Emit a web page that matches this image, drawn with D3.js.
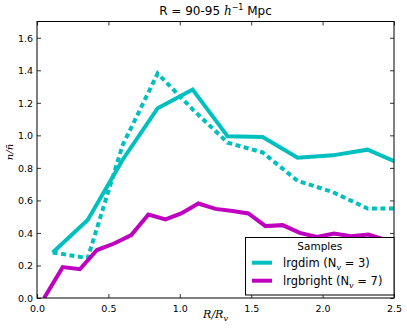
<!DOCTYPE html>
<html><head><meta charset="utf-8">
<script src="https://cdn.jsdelivr.net/npm/d3@7"></script>
<style>
body{margin:0;background:#fff;}
svg{display:block;}
text{font-family:"DejaVu Sans",sans-serif;}
.math{font-family:"DejaVu Serif",serif;font-style:italic;}
</style></head><body>
<svg id="c" width="407" height="329"></svg>
<script>
// Data
const dimX = [0.11, 0.355, 0.60, 0.845, 1.09, 1.335, 1.58, 1.825, 2.07, 2.315, 2.56];
const dimAll = [0.28, 0.48, 0.85, 1.167, 1.282, 0.994, 0.99, 0.863, 0.877, 0.912, 0.819];
const dimDashed = [0.28, 0.245, 0.94, 1.38, 1.16, 0.955, 0.895, 0.72, 0.652, 0.55, 0.55];
const brightX = [0.05, 0.18, 0.30, 0.42, 0.54, 0.66, 0.78, 0.90, 1.01, 1.13, 1.25, 1.37, 1.48, 1.60, 1.72, 1.84, 1.96, 2.08, 2.20, 2.32, 2.43, 2.55];
const brightY = [0.0, 0.19, 0.177, 0.295, 0.335, 0.387, 0.513, 0.483, 0.52, 0.581, 0.548, 0.535, 0.52, 0.442, 0.448, 0.40, 0.376, 0.397, 0.38, 0.39, 0.36, 0.355];
const xTicks = [0.0, 0.5, 1.0, 1.5, 2.0, 2.5];
const yTicks = [0.0, 0.2, 0.4, 0.6, 0.8, 1.0, 1.2, 1.4, 1.6];
const legendLabels = ["lrgdim", "lrgbright"];
const legendN = [3, 7];

const svg = d3.select("#c");
const L = 37, R = 394, T = 21.5, B = 298;
const x = d3.scaleLinear().domain([0, 2.5]).range([L, R]);
const y = d3.scaleLinear().domain([0, 1.7]).range([B, T]);
const teal = "#00BFBF", mag = "#BF00BF";

svg.append("defs").append("clipPath").attr("id", "clip")
  .append("rect").attr("x", L).attr("y", T).attr("width", R - L).attr("height", B - T);

const g = svg.append("g").attr("clip-path", "url(#clip)");
const line = d3.line().x(d => x(d[0])).y(d => y(d[1]));

g.append("path").datum(dimX.map((v, i) => [v, dimDashed[i]]))
  .attr("d", line).attr("fill", "none").attr("stroke", teal).attr("stroke-width", 4)
  .attr("stroke-dasharray", "5,3.5");
g.append("path").datum(dimX.map((v, i) => [v, dimAll[i]]))
  .attr("d", line).attr("fill", "none").attr("stroke", teal).attr("stroke-width", 4)
  .attr("stroke-linejoin", "miter");
g.append("path").datum(brightX.map((v, i) => [v, brightY[i]]))
  .attr("d", line).attr("fill", "none").attr("stroke", mag).attr("stroke-width", 4);

// Axes with inward ticks on all four sides
const fmt = d3.format(".1f");
const axB = svg.append("g").attr("transform", `translate(0,${B})`)
  .call(d3.axisBottom(x).tickValues(xTicks).tickFormat(fmt).tickSizeInner(-4).tickSizeOuter(0).tickPadding(7));
const axT = svg.append("g").attr("transform", `translate(0,${T})`)
  .call(d3.axisTop(x).tickValues(xTicks).tickFormat("").tickSizeInner(-4).tickSizeOuter(0));
const axL = svg.append("g").attr("transform", `translate(${L},0)`)
  .call(d3.axisLeft(y).tickValues(yTicks).tickFormat(fmt).tickSizeInner(-4).tickSizeOuter(0).tickPadding(4));
const axR = svg.append("g").attr("transform", `translate(${R},0)`)
  .call(d3.axisRight(y).tickValues(yTicks).tickFormat("").tickSizeInner(-4).tickSizeOuter(0));
[axB, axT, axL, axR].forEach(a => {
  a.select(".domain").remove();
  a.selectAll("line").attr("stroke", "#000").attr("stroke-width", 0.8);
  a.selectAll("text").attr("font-family", "DejaVu Sans").attr("font-size", 9.5).attr("fill", "#000");
});
axL.selectAll("text").attr("dy", "0.35em");

svg.append("rect").attr("x", L).attr("y", T).attr("width", R - L).attr("height", B - T)
  .attr("fill", "none").attr("stroke", "#000").attr("stroke-width", 1);

// Title
const title = svg.append("text").attr("x", (L + R) / 2).attr("y", 15).attr("text-anchor", "middle")
  .attr("font-size", 12);
title.append("tspan").text("R = 90-95 ");
title.append("tspan").attr("class", "math").text("h");
title.append("tspan").attr("font-size", 8).attr("dy", -5).text("−1");
title.append("tspan").attr("dy", 5).text(" Mpc");

// X label
const xl = svg.append("text").attr("x", (L + R) / 2).attr("y", 318).attr("text-anchor", "middle")
  .attr("class", "math").attr("font-size", 11);
xl.append("tspan").text("R/R");
xl.append("tspan").attr("font-size", 8).attr("dy", 3).text("v");

// Y label
svg.append("text").attr("transform", "translate(13,152) rotate(-90)").attr("text-anchor", "middle")
  .attr("class", "math").attr("font-size", 10).text("n/n\u0304");

// Legend
const lg = svg.append("g");
lg.append("rect").attr("x", 245.5).attr("y", 237.5).attr("width", R - 245.5).attr("height", 57.5)
  .attr("fill", "#fff").attr("stroke", "#000").attr("stroke-width", 1);
lg.append("text").attr("x", (245.5 + R) / 2).attr("y", 250).attr("text-anchor", "middle")
  .attr("font-size", 10.5).text("Samples");
const cols = [teal, mag];
legendLabels.forEach((lab, i) => {
  const yy = 262.7 + i * 18;
  lg.append("line").attr("x1", 252).attr("x2", 272).attr("y1", yy).attr("y2", yy)
    .attr("stroke", cols[i]).attr("stroke-width", 4);
  const t = lg.append("text").attr("x", 283).attr("y", yy + 4).attr("font-size", 11.5);
  t.append("tspan").text(lab + " (N");
  t.append("tspan").attr("class", "math").attr("font-size", 8).attr("dy", 3).text("v");
  t.append("tspan").attr("dy", -3).text(" = " + legendN[i] + ")");
});
</script>
</body></html>
